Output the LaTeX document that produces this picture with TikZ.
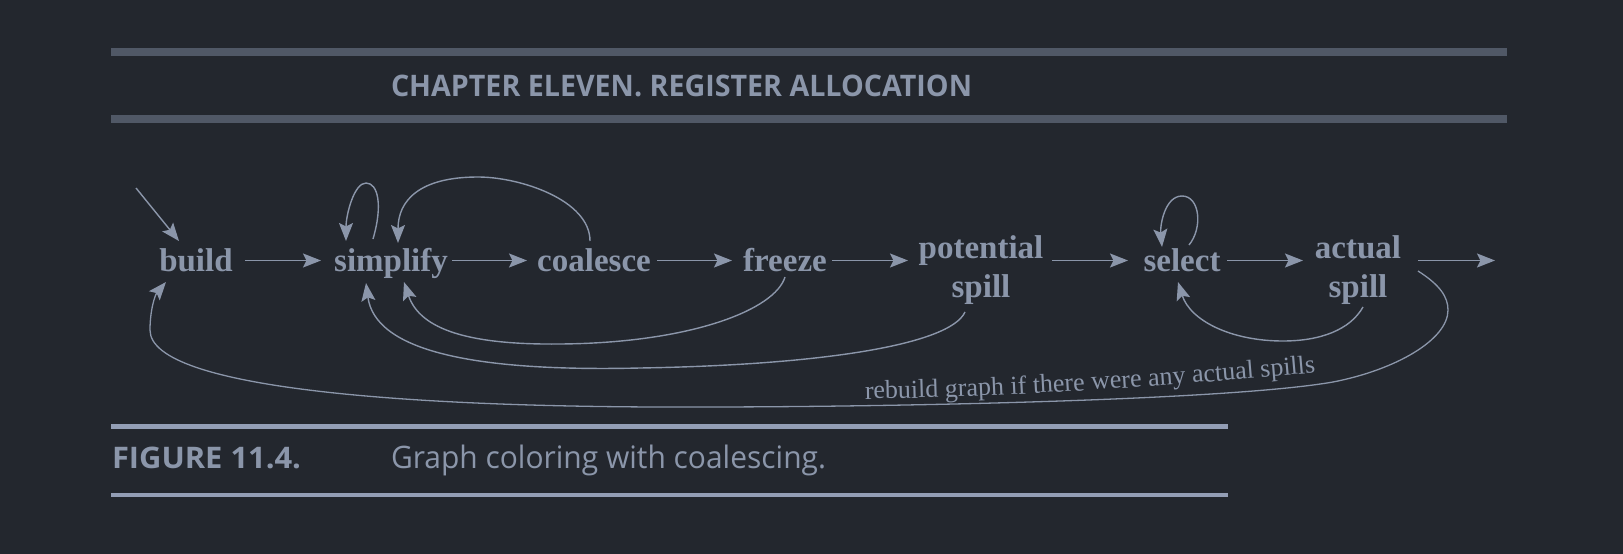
\documentclass[tikz,border=0pt]{standalone}
\usepackage{fontspec}
\usetikzlibrary{arrows.meta,calc,decorations.text}
\newfontfamily\lserif{Liberation Serif}
\newfontfamily\osans{Open Sans}
\definecolor{bg}{HTML}{23272E}
\definecolor{hdr}{HTML}{505866}
\definecolor{fg}{HTML}{8B96AA}
\definecolor{rulec}{HTML}{939EB5}
\begin{document}
\begin{tikzpicture}[x=1pt,y=-1pt,
  lbl/.style={inner sep=0pt, outer sep=0pt, text=fg, font=\lserif\bfseries\fontsize{33}{39}\selectfont, anchor=base},
  txt/.style={inner sep=0pt, outer sep=0pt, text=fg, anchor=base west},
  tip/.style={-{Stealth[length=18pt,width=14pt,inset=3.5pt]}},
  arr/.style={draw=fg, line width=1.9pt, tip},
  carr/.style={draw=fg, line width=1.4pt, tip},
]
\fill[bg] (0,0) rectangle (1623,554);
\useasboundingbox (0,0) rectangle (1623,554);
% header
\fill[hdr] (111,48) rectangle (1507,56);
\fill[hdr] (111,115) rectangle (1507,123);
\node[txt] (head) at (391,96) {\resizebox{581pt}{21.5pt}{\osans\bfseries CHAPTER ELEVEN. REGISTER ALLOCATION}};
% caption
\fill[rulec] (111,424) rectangle (1228,429);
\fill[rulec] (111,493) rectangle (1228,497);
\node[txt] (fig) at (112,468.5) {\resizebox{189pt}{21.5pt}{\osans\bfseries FIGURE 11.4.}};
\node[txt] (cap) at (391,468.5) {\resizebox{435pt}{23.5pt}{\osans Graph coloring with coalescing.}};
% nodes
\node[lbl] (build) at (196,271) {build};
\node[lbl] (simplify) at (391,271) {simplify};
\node[lbl] (coalesce) at (594,271) {coalesce};
\node[lbl] (freeze) at (785,271) {freeze};
\node[lbl] (potential) at (981,258) {\begin{tabular}[t]{@{}c@{}}potential\\spill\end{tabular}};
\node[lbl] (select) at (1182,271) {select};
\node[lbl] (actual) at (1358,258) {\begin{tabular}[t]{@{}c@{}}actual\\spill\end{tabular}};
\coordinate (entry) at (136,188);
\coordinate (out) at (1495,260.5);
% straight arrows
\draw[carr] (entry) -- ($(build.base)+(-17,-30)$);
\draw[arr] ($(build.base)+(49,-10.5)$) -- ($(simplify.base)+(-70,-10.5)$);
\draw[arr] ($(simplify.base)+(61,-10.5)$) -- ($(coalesce.base)+(-67,-10.5)$);
\draw[arr] ($(coalesce.base)+(63,-10.5)$) -- ($(freeze.base)+(-53,-10.5)$);
\draw[arr] ($(freeze.base)+(47,-10.5)$) -- ($(potential.base)+(-73,2.5)$);
\draw[arr] ($(potential.base)+(71,2.5)$) -- ($(select.base)+(-54,-10.5)$);
\draw[arr] ($(select.base)+(45,-10.5)$) -- ($(actual.base)+(-55,2.5)$);
\draw[arr] ($(actual.base)+(60,2.5)$) -- (out);
% loops and back edges
\draw[carr] ($(simplify.base)+(-18,-32)$) .. controls (383,205) and (378,183) .. (366,183)
  .. controls (354,183) and (346,215) .. ($(simplify.base)+(-45,-30)$);
\draw[carr] ($(coalesce.base)+(-4,-30)$) .. controls (590,200) and (520,177) .. (478,177)
  .. controls (420,177) and (398,200) .. ($(simplify.base)+(7,-28)$);
\draw[carr] ($(freeze.base)+(0,6)$) .. controls (775,310) and (690,343) .. (560,344)
  .. controls (470,345) and (420,330) .. ($(simplify.base)+(13,11)$);
\draw[carr] ($(potential.base)+(-16,54)$) .. controls (950,345) and (820,365) .. (640,368)
  .. controls (470,372) and (375,350) .. ($(simplify.base)+(-25,12)$);
\draw[carr] ($(select.base)+(7,-26)$) .. controls (1203,228) and (1200,196) .. (1182,196)
  .. controls (1165,196) and (1160,225) .. ($(select.base)+(-20,-24)$);
\draw[carr] ($(actual.base)+(5,49)$) .. controls (1350,330) and (1320,341) .. (1283,341)
  .. controls (1230,341) and (1190,320) .. ($(select.base)+(-4,11)$);
\draw[carr, line width=1.3pt] ($(actual.base)+(60,13)$) .. controls (1440,285) and (1448,297) .. (1448,310)
  .. controls (1448,340) and (1395,370) .. (1333,382)
  .. controls (1230,400) and (900,407) .. (700,407)
  .. controls (420,408) and (150,390) .. (150,330)
  .. controls (150,310) and (155,295) .. ($(build.base)+(-30,11)$);
% label on rebuild edge
\path[decorate, decoration={text along path, text color=fg,
  text={|\lserif\fontsize{26}{26}\selectfont|rebuild graph if there were any actual spills}}]
  (865,399) .. controls (1020,397) and (1180,385) .. (1345,370);
\end{tikzpicture}
\end{document}
